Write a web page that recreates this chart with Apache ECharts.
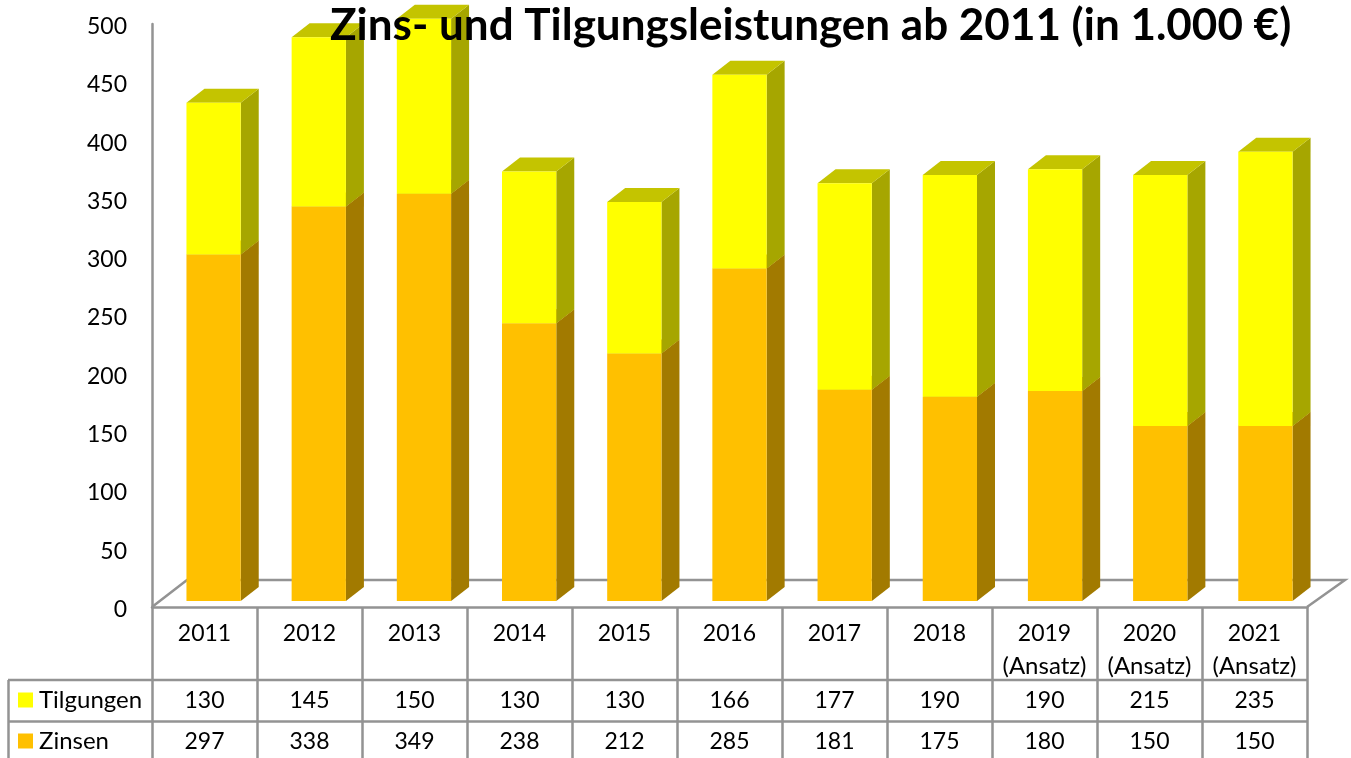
<!DOCTYPE html>
<html>
<head>
<meta charset="utf-8">
<title>Zins- und Tilgungsleistungen</title>
<script src="https://cdn.jsdelivr.net/npm/echarts@6/dist/echarts.min.js"></script>
<style>
  html, body { margin: 0; padding: 0; background: #fff; }
  #chart { width: 1351px; height: 758px; }
</style>
</head>
<body>
<div id="chart"></div>
<script>
const years = ['2011', '2012', '2013', '2014', '2015', '2016', '2017', '2018', '2019\n(Ansatz)', '2020\n(Ansatz)', '2021\n(Ansatz)']
const tilgungen = [130, 145, 150, 130, 130, 166, 177, 190, 190, 215, 235]
const zinsen = [297, 338, 349, 238, 212, 285, 181, 175, 180, 150, 150]

const fontName = 'Lato'
const lineColor = '#939393'
const lineW = 2.5
const depthX = 18
const depthY = 14

// front, side and top of one 3D bar
function barItem(params, api, colors) {
  const start = api.coord([api.value(0), api.value(1)])
  const end = api.coord([api.value(0), api.value(2)])
  const w = api.size([1, 0])[0] * 0.516
  const x0 = start[0] - w / 2
  const x1 = start[0] + w / 2
  return {
    type: 'group',
    children: [{
      type: 'polygon',
      shape: { points: [[x1, start[1]], [x1 + depthX, start[1] - depthY], [x1 + depthX, end[1] - depthY], [x1, end[1]]] },
      style: { fill: colors.side }
    }, {
      type: 'polygon',
      shape: { points: [[x0, end[1]], [x0 + depthX, end[1] - depthY], [x1 + depthX, end[1] - depthY], [x1, end[1]]] },
      style: { fill: colors.top }
    }, {
      type: 'rect',
      shape: { x: x0, y: end[1], width: w, height: start[1] - end[1] },
      style: { fill: colors.front }
    }]
  }
}

// one row of the data table below the chart
function tableRow(name, values, y) {
  return {
    name: name,
    type: 'custom',
    silent: true,
    xAxisIndex: 0,
    yAxisIndex: 0,
    data: values.map((v, i) => [i, v]),
    renderItem(params, api) {
      return {
        type: 'text',
        x: api.coord([api.value(0), 0])[0],
        y: y,
        style: {
          text: String(api.value(1)),
          fontFamily: fontName,
          fontSize: 23,
          fill: '#000',
          align: 'center',
          verticalAlign: 'middle'
        }
      }
    }
  }
}

function hLine(x1, x2, y) {
  return { type: 'line', shape: { x1, y1: y, x2, y2: y }, style: { stroke: lineColor, lineWidth: lineW } }
}

const chart = echarts.init(document.getElementById('chart'))
chart.setOption({
  animation: false,
  backgroundColor: '#fff',
  title: {
    text: 'Zins- und Tilgungsleistungen ab 2011 (in 1.000 €)',
    left: 325,
    top: -1,
    z: 20,
    textStyle: { fontFamily: fontName, fontSize: 44, fontWeight: 'bold', color: '#000' }
  },
  legend: {
    data: ['Tilgungen', 'Zinsen'],
    orient: 'vertical',
    left: 18,
    top: 688,
    padding: 0,
    itemGap: 17,
    itemWidth: 15,
    itemHeight: 15,
    itemStyle: { borderWidth: 0 },
    icon: 'rect',
    textStyle: { fontFamily: fontName, fontSize: 24, color: '#000', padding: [0, 0, 0, 1] }
  },
  grid: [
    { left: 152, width: 1155, top: 24, height: 583 },
    { left: 161, width: 1157, top: 17.5, height: 583.5 }
  ],
  xAxis: [{
    type: 'category',
    gridIndex: 0,
    data: years,
    axisLine: { lineStyle: { color: lineColor, width: lineW } },
    axisTick: { show: true, length: 151, lineStyle: { color: lineColor, width: lineW } },
    axisLabel: {
      interval: 0,
      margin: 10,
      color: '#000',
      verticalAlign: 'top',
      formatter: v => v.split('\n').map((s, i) => '{' + (i ? 'b' : 'a') + '|' + s + '}').join('\n'),
      rich: {
        a: { fontFamily: fontName, fontSize: 23, lineHeight: 33 },
        b: { fontFamily: fontName, fontSize: 24, lineHeight: 33 }
      }
    }
  }, {
    type: 'category',
    gridIndex: 1,
    data: years,
    show: false
  }],
  yAxis: [{
    type: 'value',
    gridIndex: 0,
    min: 0,
    max: 500,
    interval: 50,
    axisLine: { show: true, lineStyle: { color: lineColor, width: lineW } },
    axisTick: { show: false },
    splitLine: { show: false },
    axisLabel: {
      margin: 25,
      formatter: '{n|{value}}',
      rich: { n: { fontFamily: fontName, fontSize: 23, color: '#000', padding: [5, 0, 0, 0] } }
    }
  }, {
    type: 'value',
    gridIndex: 1,
    min: 0,
    max: 500,
    show: false
  }],
  graphic: [
    // floor behind the bars
    { type: 'polyline', z: 1, shape: { points: [[152, 607], [187, 580], [1345, 580], [1307, 607]] }, style: { stroke: lineColor, lineWidth: lineW, fill: null } },
    // table frame
    hLine(8, 1307, 680),
    hLine(8, 1307, 721.5),
    { type: 'line', shape: { x1: 8.5, y1: 680, x2: 8.5, y2: 758 }, style: { stroke: lineColor, lineWidth: lineW } }
  ],
  series: [{
    name: 'Zinsen',
    type: 'custom',
    xAxisIndex: 1,
    yAxisIndex: 1,
    itemStyle: { color: '#FFC000' },
    encode: { x: 0, y: 2 },
    data: zinsen.map((v, i) => [i, 0, v]),
    renderItem: (params, api) => barItem(params, api, { front: '#FFC000', side: '#A27A00', top: '#C39300' })
  }, {
    name: 'Tilgungen',
    type: 'custom',
    xAxisIndex: 1,
    yAxisIndex: 1,
    itemStyle: { color: '#FFFF00' },
    encode: { x: 0, y: 2 },
    data: tilgungen.map((v, i) => [i, zinsen[i], zinsen[i] + v]),
    renderItem: (params, api) => barItem(params, api, { front: '#FFFF00', side: '#A6A600', top: '#C4C400' })
  },
  tableRow('Tilgungen Tabelle', tilgungen, 701),
  tableRow('Zinsen Tabelle', zinsen, 742)]
})
</script>
</body>
</html>
